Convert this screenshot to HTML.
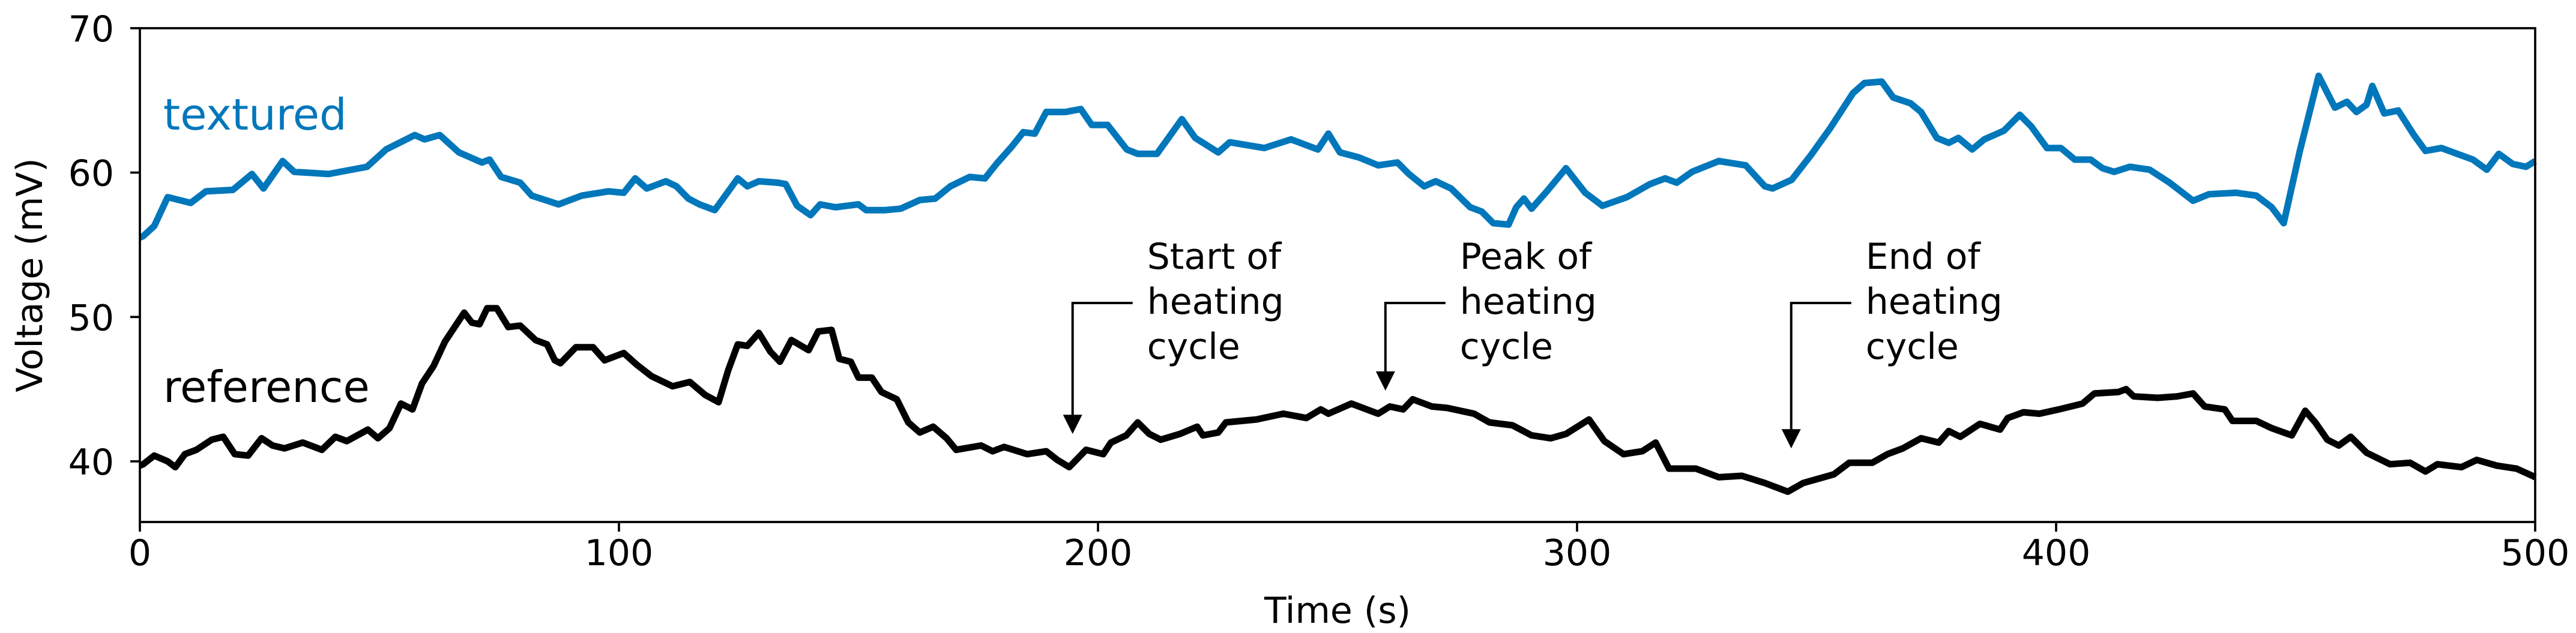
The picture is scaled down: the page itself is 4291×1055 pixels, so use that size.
<!DOCTYPE html>
<html><head><meta charset="utf-8"><style>
html,body{margin:0;padding:0;background:#fff;}
svg{display:block;font-family:"DejaVu Sans","Liberation Sans",sans-serif;}
</style></head><body>
<svg id="chart" width="4291" height="1055" viewBox="0 0 4291 1055">
<rect x="0" y="0" width="4291" height="1055" fill="#fff"/>
<g id="marks"></g>
<g id="axes"></g>
</svg>
<script>
const tTex = [0,0.7,3,5.8,10.6,13.8,19.4,23.4,25.8,29.8,32.2,39.4,47.4,51.4,57.4,59.4,62.6,66.6,71.4,73,75.4,79.4,81.8,87.4,92.2,97.8,101,103.4,105.8,109.8,112,114.5,116.8,120,122.4,124.8,126.8,129.2,133.2,134.8,137.2,140,142,145.2,150,151.6,155.6,158.8,162.8,166,169.2,173.2,176.4,178.8,182,184.4,186.8,189.2,193.2,196.4,198.7,202,206,208.3,212.3,214.7,217.5,220.3,225.1,227.5,234.7,240.3,245.9,248.1,250.5,254.5,258.5,262.5,264.9,268.1,270.5,273.7,277.7,280.1,282.5,285.7,287.3,288.9,290.5,293.7,297.7,301.7,305.3,310.4,315.2,318.4,320.8,324,329.6,335.2,339.2,340.8,344.8,348.8,352.8,357.6,360,363.6,366,369.6,371.8,375.1,377.6,379.6,382.5,385,389.1,392.4,394.8,398.1,401,403.9,407.2,409.7,412.1,415.4,419.5,423.7,428.6,431.9,437.6,441.8,445,447.5,450.8,454.8,458.2,460.7,462.7,464.8,466,468.5,471.4,474.7,477.1,480.4,487,489.9,492.4,495.3,498.1,500];
const vTex = [55.5,55.6,56.3,58.3,57.9,58.7,58.8,59.9,58.9,60.8,60.05,59.9,60.4,61.6,62.6,62.3,62.6,61.4,60.7,60.9,59.7,59.3,58.4,57.8,58.4,58.7,58.6,59.6,58.9,59.4,59.05,58.2,57.8,57.4,58.5,59.6,59.05,59.4,59.3,59.2,57.7,57.05,57.8,57.6,57.8,57.4,57.4,57.5,58.1,58.2,59.05,59.7,59.6,60.6,61.8,62.8,62.7,64.2,64.2,64.4,63.3,63.3,61.6,61.3,61.3,62.4,63.7,62.4,61.4,62.1,61.7,62.3,61.6,62.7,61.4,61.05,60.5,60.7,59.9,59.05,59.4,58.9,57.6,57.3,56.5,56.4,57.6,58.2,57.5,58.7,60.3,58.6,57.7,58.3,59.2,59.6,59.3,60.05,60.8,60.5,59.05,58.9,59.5,61.2,63.05,65.5,66.2,66.3,65.2,64.8,64.2,62.4,62.06,62.4,61.6,62.3,62.9,64,63.2,61.7,61.7,60.9,60.9,60.3,60.05,60.4,60.2,59.3,58.05,58.5,58.6,58.4,57.6,56.5,61.4,66.7,64.5,64.9,64.2,64.7,66,64.1,64.3,62.6,61.5,61.7,60.9,60.2,61.3,60.6,60.4,60.8];
const tRef = [0,0.7,3,5.8,7.4,9.4,11.8,15,17.4,19.8,22.6,25.4,27.7,30.2,34,38,40.8,43.2,47.6,49.7,52.1,54.5,56.9,58.9,61.3,63.7,66.1,67.7,69.3,70.9,72.5,74.5,76.9,79.4,82.6,85,86.6,87.8,91,94.6,97,101,103.7,106.8,111.2,114.8,118,120.8,122.8,124.8,126.8,129.2,131.6,133.6,136,139.6,141.6,144.4,146,148.4,150,152.8,154.8,158,160.4,162.8,165.6,168.4,170.4,175.6,178,180.4,185.2,189.2,191.5,194,197.5,201.1,202.7,205.9,208.3,210.7,213.1,217.1,220.7,221.9,225.1,226.7,233.1,238.7,243.5,246.5,248.1,252.9,258.5,260.9,263.7,265.7,269.7,272.9,278.5,281.7,286.5,290.5,294.5,297.7,302.5,305.7,309.7,313.6,316.4,319.2,324.8,329.6,334.4,339.2,344,347.2,350.4,353.6,356.8,361.6,364.8,368,371.8,375.5,377.6,380,384.1,388.3,389.9,393.2,396.5,400.6,405.5,408,413,414.6,416.2,421.2,425.3,428.6,431,435.2,436.8,441.8,445,449.2,452,454.1,456.6,459,461.5,464.8,469.7,473.9,477.1,479.6,484.6,487.8,492,496.1,499.4,500];
const vRef = [39.7,39.8,40.4,40.0,39.6,40.5,40.8,41.5,41.7,40.5,40.4,41.6,41.1,40.9,41.3,40.8,41.7,41.4,42.2,41.6,42.3,44.0,43.6,45.4,46.6,48.3,49.5,50.3,49.6,49.5,50.6,50.6,49.3,49.4,48.4,48.1,47.0,46.8,47.9,47.9,47.0,47.5,46.7,45.9,45.2,45.5,44.6,44.1,46.3,48.1,48.0,48.9,47.6,46.9,48.4,47.7,49.0,49.1,47.1,46.9,45.8,45.8,44.8,44.3,42.7,42.0,42.4,41.6,40.8,41.1,40.7,41.0,40.5,40.7,40.1,39.6,40.8,40.5,41.3,41.8,42.7,41.9,41.5,41.9,42.4,41.8,42.0,42.7,42.9,43.3,43.0,43.6,43.3,44.0,43.3,43.8,43.6,44.3,43.8,43.7,43.3,42.7,42.5,41.8,41.6,41.9,42.9,41.4,40.5,40.7,41.3,39.5,39.5,38.9,39.0,38.5,37.9,38.5,38.8,39.1,39.9,39.9,40.5,40.9,41.6,41.3,42.1,41.7,42.6,42.2,43.0,43.4,43.3,43.6,44.0,44.7,44.8,45.0,44.5,44.4,44.5,44.7,43.8,43.6,42.8,42.8,42.3,41.8,43.5,42.7,41.5,41.1,41.7,40.6,39.8,39.9,39.3,39.8,39.6,40.1,39.7,39.5,39.0,38.9];
const xTicks = [0,100,200,300,400,500];
const yTicks = [40,50,60,70];
const annTimes = [194.7,260,344.7];
const annTipValues = [41.9,44.9,40.9];
const annLines = [["Start of","heating","cycle"],["Peak of","heating","cycle"],["End of","heating","cycle"]];

const L=233,R=4223,T=47,B=870,X0=0,X1=500,Y0=35.8,Y1=70;
const NS="http://www.w3.org/2000/svg";
function xs(t){return L+(t-X0)/(X1-X0)*(R-L);}
function ys(v){return B-(v-Y0)/(Y1-Y0)*(B-T);}
function mk(tag,attrs,parent){const e=document.createElementNS(NS,tag);for(const k in attrs)e.setAttribute(k,attrs[k]);parent.appendChild(e);return e;}
const marks=document.getElementById('marks'), axes=document.getElementById('axes');

function series(ts,vs,color,name){
  let d='';ts.forEach((t,i)=>{d+=(i?'L':'M')+xs(t).toFixed(1)+' '+ys(vs[i]).toFixed(1);});
  const p=mk('path',{d:d,fill:'none',stroke:color,'stroke-width':11,'stroke-linejoin':'round','stroke-linecap':'butt'},marks);
  
  
}
series(tTex,vTex,'#0077bb','textured-line');
series(tRef,vRef,'#000000','reference-line');

let lt=mk('text',{x:272,y:216,'font-size':72,fill:'#0077bb'},marks);lt.textContent='textured';


let lr=mk('text',{x:272,y:670,'font-size':72,fill:'#000'},marks);lr.textContent='reference';



annTimes.forEach((t,i)=>{
  const g=mk('g',{},marks);
  
  
  const ax=xs(t), tip=ys(annTipValues[i]), hy=505;
  mk('path',{d:`M${ax+100} ${hy} L${ax} ${hy} L${ax} ${tip-30}`,fill:'none',stroke:'#000','stroke-width':4},g);
  mk('path',{d:`M${ax-16} ${tip-32} L${ax+16} ${tip-32} L${ax} ${tip} Z`,fill:'#000'},g);
  const tx=mk('text',{x:ax+124,y:448,'font-size':60,fill:'#000'},g);
  annLines[i].forEach((s,j)=>{const sp=mk('tspan',{x:ax+124,dy:j?75:0},tx);sp.textContent=s;});
});

const fr=mk('rect',{x:L,y:T,width:R-L,height:B-T,fill:'none',stroke:'#000','stroke-width':3.7},axes);


xTicks.forEach(v=>{
  const x=xs(v);
  mk('line',{x1:x,x2:x,y1:B,y2:B+16,stroke:'#000','stroke-width':3.7},axes);
  const t=mk('text',{x:x,y:942,'font-size':60,'text-anchor':'middle',fill:'#000'},axes);t.textContent=v;
  
  
});
yTicks.forEach(v=>{
  const y=ys(v);
  mk('line',{x1:L-16,x2:L,y1:y,y2:y,stroke:'#000','stroke-width':3.7},axes);
  const t=mk('text',{x:190,y:y+22,'font-size':60,'text-anchor':'end',fill:'#000'},axes);t.textContent=v;
  
  
});
const xl=mk('text',{x:(L+R)/2,y:1038,'font-size':60,'text-anchor':'middle',fill:'#000'},axes);xl.textContent='Time (s)';


const yl=mk('text',{x:0,y:0,'font-size':60,'text-anchor':'middle',fill:'#000',transform:`translate(70 ${(T+B)/2}) rotate(-90)`},axes);yl.textContent='Voltage (mV)';


</script>
</body></html>
